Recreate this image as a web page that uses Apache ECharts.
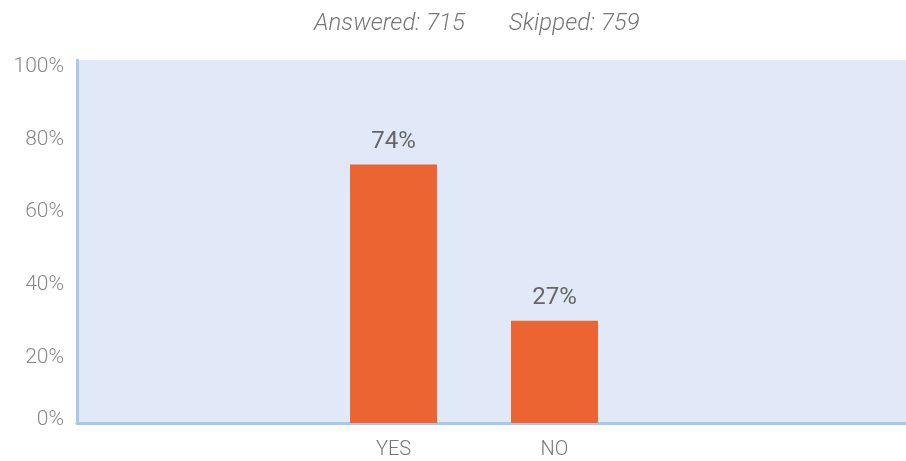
<!DOCTYPE html>
<html>
<head>
<meta charset="utf-8">
<script src="https://cdn.jsdelivr.net/npm/echarts@6/dist/echarts.min.js"></script>
<style>
  html, body { margin: 0; padding: 0; background: #fff; }
  #chart { width: 906px; height: 461px; }
</style>
</head>
<body>
<div id="chart"></div>
<script>
/* -------------------------------------------------------------------------- */
/* Survey answers bar chart */
var categories = ['YES', 'NO'];
var barValues = [71.2, 28.2];
var barLabels = ['74%', '27%'];
var answeredCount = 715;
var skippedCount = 759;

var chart = echarts.init(document.getElementById('chart'));
var font = 'Roboto';
var axisBlue = '#a9c9ec';

chart.setOption({
  animation: false,
  title: {
    left: 309,
    top: 7,
    text: '{a|Answered: ' + answeredCount + '}{sp|}{a|Skipped: ' + skippedCount + '}',
    textStyle: {
      rich: {
        a: { fontFamily: font, fontStyle: 'italic', fontWeight: 300, fontSize: 24, color: '#777' },
        sp: { width: 44 }
      }
    }
  },
  grid: [
    // background + axes
    { left: 77, right: 0, top: 60, bottom: 38, show: true, backgroundColor: '#e1e8f7', borderWidth: 0 },
    // bars
    { left: 313, width: 322, top: 60, bottom: 38 }
  ],
  xAxis: [{
    gridIndex: 0,
    type: 'category',
    data: [''],
    axisLine: { lineStyle: { color: axisBlue, width: 3 } },
    axisTick: { show: false },
    axisLabel: { show: false }
  }, {
    gridIndex: 1,
    type: 'category',
    data: categories,
    axisLine: { show: false },
    axisTick: { show: false },
    axisLabel: { margin: 17, fontFamily: font, fontWeight: 300, fontSize: 20, color: '#777' }
  }],
  yAxis: [{
    gridIndex: 0,
    type: 'value',
    min: 0,
    max: 100,
    interval: 20,
    splitLine: { show: false },
    axisLine: { show: true, lineStyle: { color: axisBlue, width: 3 } },
    axisTick: { show: false },
    axisLabel: {
      margin: 13,
      formatter: function (v) {
        return v === 0 ? '{z|0%}' : '{a|' + v + '%}';
      },
      rich: {
        a: { fontFamily: font, fontWeight: 300, fontSize: 21, color: '#888', padding: [14, 0, 0, 0] },
        z: { fontFamily: font, fontWeight: 300, fontSize: 21, color: '#888', padding: [0, 0, 6, 0] }
      }
    }
  }, {
    gridIndex: 1,
    type: 'value',
    min: 0,
    max: 100,
    show: false
  }],
  series: [{
    type: 'bar',
    xAxisIndex: 1,
    yAxisIndex: 1,
    barWidth: 87,
    data: barValues,
    itemStyle: { color: '#ec6431' },
    label: {
      show: true,
      position: 'top',
      distance: 11,
      fontFamily: font,
      fontSize: 24,
      color: '#666',
      formatter: function (p) { return barLabels[p.dataIndex]; }
    }
  }]
});
</script>
</body>
</html>
